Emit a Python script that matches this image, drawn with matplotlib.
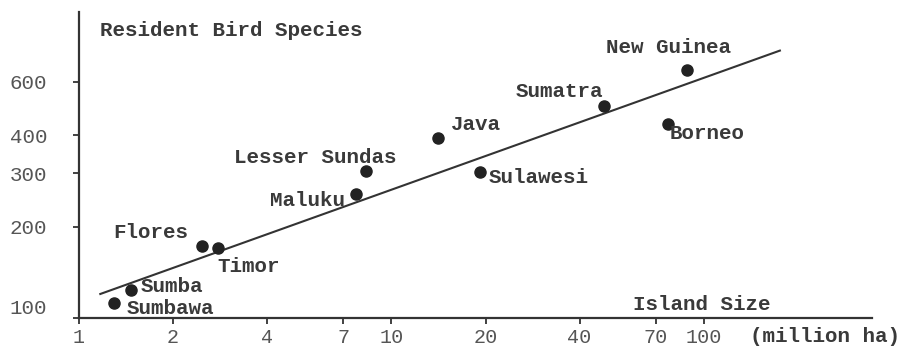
import numpy as np
import matplotlib
matplotlib.use("Agg")
import matplotlib.pyplot as plt
from matplotlib.ticker import FixedLocator, NullLocator

# island area (million ha) vs resident bird species
islands = ["Sumbawa", "Sumba", "Flores", "Timor", "Maluku", "Lesser Sundas",
           "Java", "Sulawesi", "Sumatra", "Borneo", "New Guinea"]
area = [1.29, 1.47, 2.48, 2.79, 7.70, 8.29, 14.1, 19.2, 47.9, 76.7, 88.2]
species = [112, 124, 173, 170, 257, 306, 393, 303, 501, 437, 658]

# fitted line end points
fit_area = [1.17, 175]
fit_species = [120, 761]

x_ticks = [1, 2, 4, 7, 10, 20, 40, 70, 100]
y_ticks = [100, 200, 300, 400, 600]

# label placement: (dx, dy) in pixels, horizontal alignment
label_pos = {
    "Sumbawa": (13, -5, "left"),
    "Sumba": (9, 3, "left"),
    "Flores": (-14, 13, "right"),
    "Timor": (-1, -18, "left"),
    "Maluku": (-11, -7, "right"),
    "Lesser Sundas": (30, 13, "right"),
    "Java": (13, 13, "left"),
    "Sulawesi": (9, -6, "left"),
    "Sumatra": (-1, 14, "right"),
    "Borneo": (2, -10, "left"),
    "New Guinea": (-18, 22, "center"),
}

font = "Liberation Mono"
txt_col = "#3a3a3a"

fig = plt.figure(figsize=(9.03, 3.49), dpi=100)
ax = fig.add_axes([79 / 903, 31 / 349, 793 / 903, 306 / 349])
ax.set_xscale("log")
ax.set_yscale("log")
ax.set_xlim(1, 345)
ax.set_ylim(100, 1020)

ax.plot(fit_area, fit_species, color="#333333", lw=1.5)
ax.plot(area, species, "o", color="#222222", markersize=8)

for name, x, y in zip(islands, area, species):
    dx, dy, ha = label_pos[name]
    ax.annotate(name, (x, y), xytext=(dx, dy), textcoords="offset pixels",
                ha=ha, va="center", family=font, fontsize=15,
                fontweight="bold", color=txt_col)

for s in ["top", "right"]:
    ax.spines[s].set_visible(False)
for s in ["left", "bottom"]:
    ax.spines[s].set_linewidth(1.6)
    ax.spines[s].set_color("#333333")

ax.xaxis.set_major_locator(FixedLocator(x_ticks))
ax.xaxis.set_minor_locator(NullLocator())
ax.set_xticklabels([str(t) for t in x_ticks])
ax.yaxis.set_major_locator(FixedLocator(y_ticks))
ax.yaxis.set_minor_locator(NullLocator())
ax.set_yticklabels([str(t) for t in y_ticks])

ax.tick_params(axis="x", direction="out", length=4, width=1.3, pad=3,
               labelsize=14.5, labelcolor="#555555", color="#333333")
ax.tick_params(axis="y", direction="out", length=4, width=1.3, pad=19,
               labelsize=15, labelcolor="#555555", color="#333333")
for lab in ax.get_xticklabels() + ax.get_yticklabels():
    lab.set_family(font)
ax.get_yticklabels()[0].set_va("bottom")

fig.text(100 / 903, 1 - 30 / 349, "Resident Bird Species", family=font,
         fontsize=15, fontweight="bold", color=txt_col, va="center")
fig.text(633 / 903, 1 - 305 / 349, "Island Size", family=font,
         fontsize=15, fontweight="bold", color=txt_col, va="center")
fig.text(750 / 903, 1 - 337 / 349, "(million ha)", family=font,
         fontsize=15, fontweight="bold", color=txt_col, va="center")

fig.savefig("out.png", dpi=100)
